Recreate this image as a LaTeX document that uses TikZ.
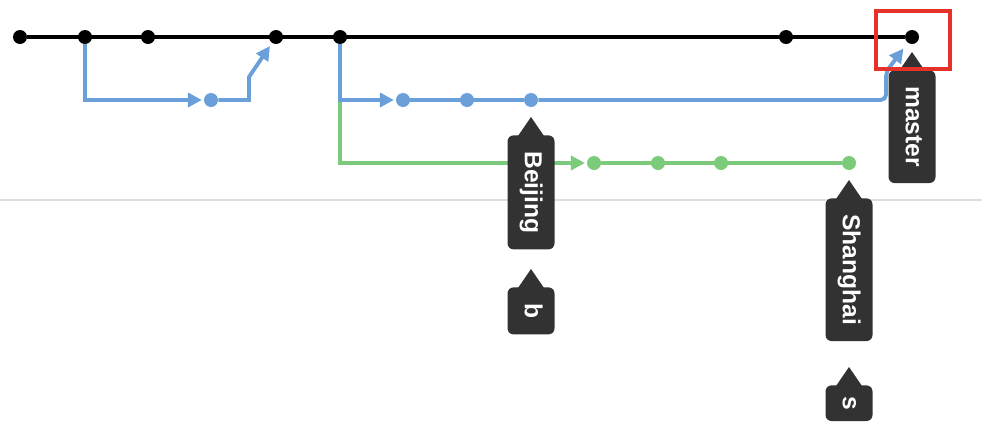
\documentclass[tikz,border=0pt]{standalone}
\usepackage{fontspec}
\newfontfamily\tagfont{Liberation Sans}
\usetikzlibrary{arrows.meta,calc}
\definecolor{GitBlue}{HTML}{6B9FD9}
\definecolor{GitGreen}{HTML}{7CCB7A}
\definecolor{GitTag}{HTML}{323232}
\definecolor{GitRule}{HTML}{DEDEDE}
\definecolor{GitRed}{HTML}{E8302A}

\begin{document}
\begin{tikzpicture}[x=0.02cm, y=-0.02cm,
  commit/.style={circle, fill=#1, inner sep=0pt, minimum size=0.28cm},
  commit/.default=black,
  trunk/.style={line width=2.4pt, draw=black},
  link/.style={line width=2.2pt, draw=#1},
  branch/.style={link=#1, -{Triangle[length=8pt,width=8pt]}},
  tagbox/.style={fill=GitTag, text=white, rounded corners=0.12cm, rotate=-90, anchor=west,
    minimum height=0.94cm, inner xsep=0.32cm, inner ysep=0pt, text height=10pt, text depth=3pt,
    font=\tagfont\bfseries\fontsize{14}{16}\selectfont}]
  \useasboundingbox (0,0) rectangle (982,440);
  \draw[GitRule, line width=0.8pt] (0,200) -- (982,200);

  % master
  \node[commit] (m1) at (20,37) {};
  \node[commit] (m2) at (85,37) {};
  \node[commit] (m3) at (148,37) {};
  \node[commit] (m4) at (276,37) {};
  \node[commit] (m5) at (340,37) {};
  \node[commit] (m6) at (786,37) {};
  \node[commit] (m7) at (912,37) {};
  \draw[trunk] (m1) -- (m7);

  % first branch, merged back
  \node[commit=GitBlue] (b1) at (211,100) {};
  \draw[branch=GitBlue, shorten >=1pt] (m2) |- (b1);
  \draw[branch=GitBlue, shorten >=2pt] (b1) -- ++(38,0) -- ++(0,-23) -- (m4);

  % Shanghai
  \node[commit=GitGreen] (g1) at (594,163) {};
  \node[commit=GitGreen] (g2) at (658,163) {};
  \node[commit=GitGreen] (g3) at (721,163) {};
  \node[commit=GitGreen] (g4) at (849,163) {};
  \draw[branch=GitGreen, shorten >=1pt] (m5) |- (g1);
  \draw[link=GitGreen] (g1) -- (g4);

  % Beijing
  \node[commit=GitBlue] (d1) at (403,100) {};
  \node[commit=GitBlue] (d2) at (467,100) {};
  \node[commit=GitBlue] (d3) at (531,100) {};
  \draw[branch=GitBlue, shorten >=1pt] (m5) |- (d1);
  \draw[link=GitBlue] (d1) -- (d3);
  \draw[branch=GitBlue, shorten >=4pt, rounded corners=3pt] (d3) -- ++(355,0) -- ++(0,-28) -- (m7);

  % labels
  \node[tagbox] (tBeijing) at (531,135) {Beijing};
  \node[tagbox] (tb) at (531,287) {b};
  \node[tagbox] (tmaster) at (912,70) {master};
  \node[tagbox] (tShanghai) at (849,198) {Shanghai};
  \node[tagbox, inner xsep=0.22cm] (ts) at (849,385) {s};
  \foreach \t in {tBeijing,tb,tmaster,tShanghai,ts}
    \fill[GitTag] ($(\t.west)+(-13,1)$) -- ($(\t.west)+(0,-18)$) -- ($(\t.west)+(13,1)$) -- cycle;

  \draw[GitRed, line width=2pt] (876,11) rectangle (950,69);
\end{tikzpicture}
\end{document}
